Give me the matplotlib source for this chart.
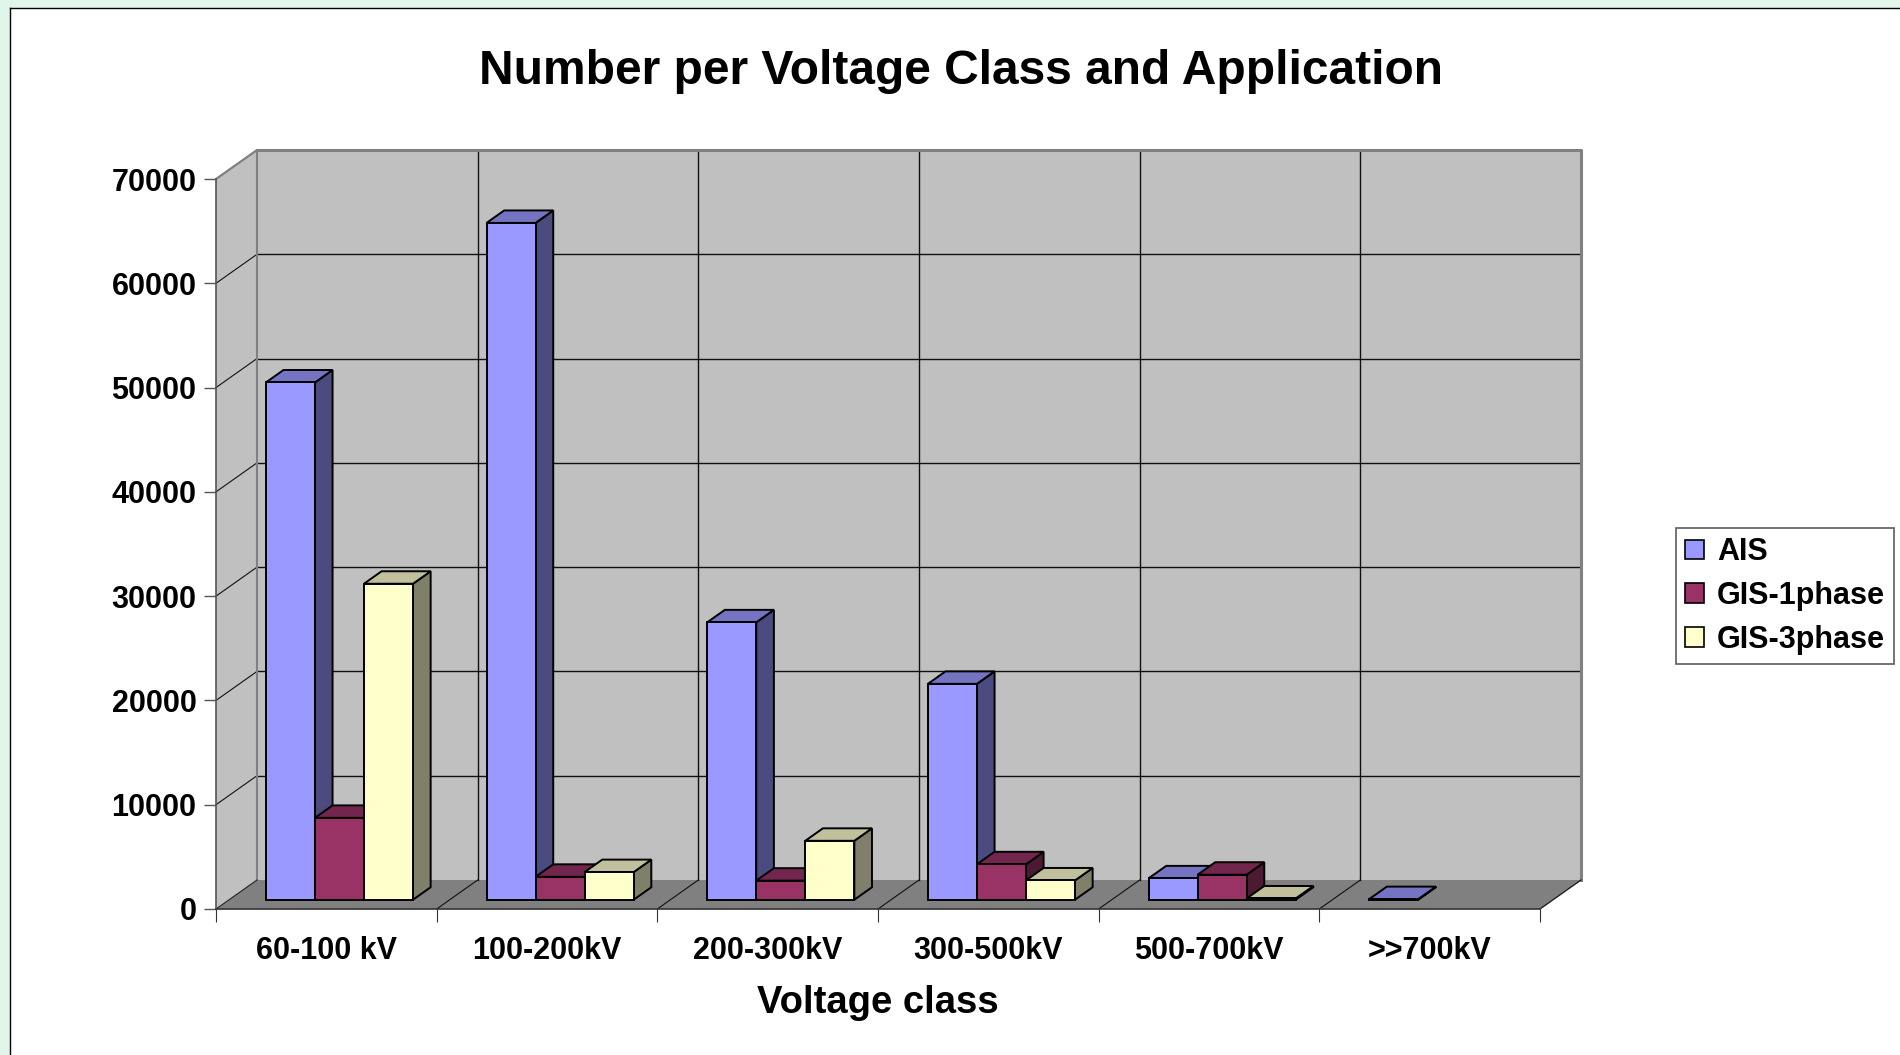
import matplotlib
matplotlib.use('Agg')
import matplotlib.pyplot as plt
from matplotlib.patches import Polygon, Rectangle, Patch
import numpy as np

plt.rcParams['font.family'] = ['Liberation Sans', 'DejaVu Sans']
plt.rcParams['font.weight'] = 'bold'

categories = ['60-100 kV', '100-200kV', '200-300kV', '300-500kV', '500-700kV', '>>700kV']
ais = [49600, 64900, 26600, 20700, 2050, 60]
gis_1phase = [7850, 2200, 1830, 3400, 2400, 0]
gis_3phase = [30300, 2650, 5650, 1850, 120, 0]
series_names = ['AIS', 'GIS-1phase', 'GIS-3phase']
yticks = [0, 10000, 20000, 30000, 40000, 50000, 60000, 70000]

# front, top, side colours (excel 3d style)
colours = [
    ('#9999ff', '#7474c2', '#4b4b80'),
    ('#993366', '#73264d', '#4d1a33'),
    ('#ffffcc', '#c0c09c', '#80806a'),
]

W, H = 1900, 1055
fig = plt.figure(figsize=(19, 10.55), dpi=100)
fig.patch.set_facecolor('white')

# slide background strip + chart frame
fig.patches.append(Rectangle((0, 0), 10 / W, 1, transform=fig.transFigure,
                             facecolor='#e2f5eb', edgecolor='none', zorder=0))
fig.patches.append(Rectangle((0, 1 - 8 / H), 1, 8 / H, transform=fig.transFigure,
                             facecolor='#e2f5eb', edgecolor='none', zorder=0))
fig.lines.append(plt.Line2D([10 / W, 10 / W], [0, 1 - 8 / H], transform=fig.transFigure,
                            color='black', lw=1))
fig.lines.append(plt.Line2D([10 / W, 1], [1 - 8 / H, 1 - 8 / H], transform=fig.transFigure,
                            color='black', lw=1))

left, right, bottom, top = 216, 1540, 909, 179
ax = fig.add_axes([left / W, 1 - bottom / H, (right - left) / W, (bottom - top) / H])
ax.set_xlim(0, 6)
ax.set_ylim(0, 70000)
ax.patch.set_visible(False)

n = len(categories)
ymax = 70000
DX = 41 / ((right - left) / n)
DY = 29 / ((bottom - top) / ymax)

# walls and floor
ax.add_patch(Polygon([(DX, DY), (n + DX, DY), (n + DX, ymax + DY), (DX, ymax + DY)],
                     closed=True, facecolor='#c0c0c0', edgecolor='none', clip_on=False, zorder=1))
ax.add_patch(Polygon([(0, 0), (DX, DY), (DX, ymax + DY), (0, ymax)],
                     closed=True, facecolor='#c0c0c0', edgecolor='none', clip_on=False, zorder=1))
ax.add_patch(Polygon([(0, 0), (n, 0), (n + DX, DY), (DX, DY)],
                     closed=True, facecolor='#808080', edgecolor='none', clip_on=False, zorder=1))

for v in yticks[1:-1]:
    ax.plot([DX, n + DX], [v + DY, v + DY], color='#111111', lw=1.0, clip_on=False, zorder=2)
for v in yticks[1:]:
    ax.plot([0, DX], [v, v + DY], color='#111111', lw=0.8, clip_on=False, zorder=2)
for k in range(1, n):
    ax.plot([k + DX, k + DX], [DY, ymax + DY], color='#111111', lw=1.0, clip_on=False, zorder=2)
    ax.plot([k, k + DX], [0, DY], color='#111111', lw=0.8, clip_on=False, zorder=2)

# wall borders
ax.plot([DX, n + DX, n + DX], [ymax + DY, ymax + DY, DY], color='#808080', lw=2.2,
        clip_on=False, zorder=2)
ax.plot([0, DX, DX], [ymax, ymax + DY, DY], color='#808080', lw=1.5, clip_on=False, zorder=2)
ax.plot([0, DX], [0, DY], color='#222222', lw=0.8, clip_on=False, zorder=2)
ax.plot([n, n + DX], [0, DY], color='#222222', lw=1.0, clip_on=False, zorder=2)

# bars
f1, f2 = 0.32, 0.75
bw = 1 / 4.5
gap = 0.75 * bw
values = [ais, gis_1phase, gis_3phase]
for i in range(n):
    for j in range(3):
        h = values[j][i]
        if h <= 0:
            continue
        x0 = i + gap + j * bw
        ax1, ay1 = f1 * DX, f1 * DY
        ax2, ay2 = f2 * DX, f2 * DY
        fc, tc, sc = colours[j]
        side = [(x0 + bw + ax1, ay1), (x0 + bw + ax2, ay2), (x0 + bw + ax2, h + ay2), (x0 + bw + ax1, h + ay1)]
        topf = [(x0 + ax1, h + ay1), (x0 + bw + ax1, h + ay1), (x0 + bw + ax2, h + ay2), (x0 + ax2, h + ay2)]
        front = [(x0 + ax1, ay1), (x0 + bw + ax1, ay1), (x0 + bw + ax1, h + ay1), (x0 + ax1, h + ay1)]
        for pts, c in [(side, sc), (topf, tc), (front, fc)]:
            ax.add_patch(Polygon(pts, closed=True, facecolor=c, edgecolor='black', lw=1.4,
                                 joinstyle='miter', clip_on=False, zorder=3))

# axes
for s in ['top', 'right']:
    ax.spines[s].set_visible(False)
ax.spines['left'].set_color('#555555')
ax.spines['left'].set_linewidth(1.2)
ax.spines['bottom'].set_color('#333333')
ax.spines['bottom'].set_linewidth(1.2)
ax.spines['left'].set_zorder(2.5)
ax.spines['bottom'].set_zorder(2.5)

ax.set_yticks(yticks)
ax.set_yticklabels([str(v) for v in yticks], fontsize=22, fontweight='bold')
ax.tick_params(axis='y', direction='out', length=8.6, width=1, color='#555555', pad=5.5)

ax.set_xticks(np.arange(n) + 0.5)
ax.set_xticklabels(categories, fontsize=22, fontweight='bold')
ax.set_xticks(np.arange(n + 1), minor=True)
ax.tick_params(axis='x', which='major', length=0, pad=19.5)
ax.tick_params(axis='x', which='minor', direction='out', length=9, width=0.8, color='#333333')

ax.set_xlabel('Voltage class', fontsize=27.5, fontweight='bold', labelpad=13.5)

fig.text(961 / W, 1 - 71 / H, 'Number per Voltage Class and Application',
         ha='center', va='center', fontsize=34.5, fontweight='bold')

handles = [Patch(facecolor=colours[j][0], edgecolor='black', lw=1.2) for j in range(3)]
leg = fig.legend(handles, series_names, loc='upper left', bbox_to_anchor=(1676 / W, 1 - 528 / H),
                 fontsize=22, frameon=True, fancybox=False, edgecolor='#333333',
                 handlelength=0.6, handleheight=0.6, handletextpad=0.45,
                 labelspacing=0.45, borderpad=0.3, borderaxespad=0)
leg.get_frame().set_linewidth(1.2)
for t in leg.get_texts():
    t.set_fontweight('bold')

fig.savefig('out.png', dpi=100)
